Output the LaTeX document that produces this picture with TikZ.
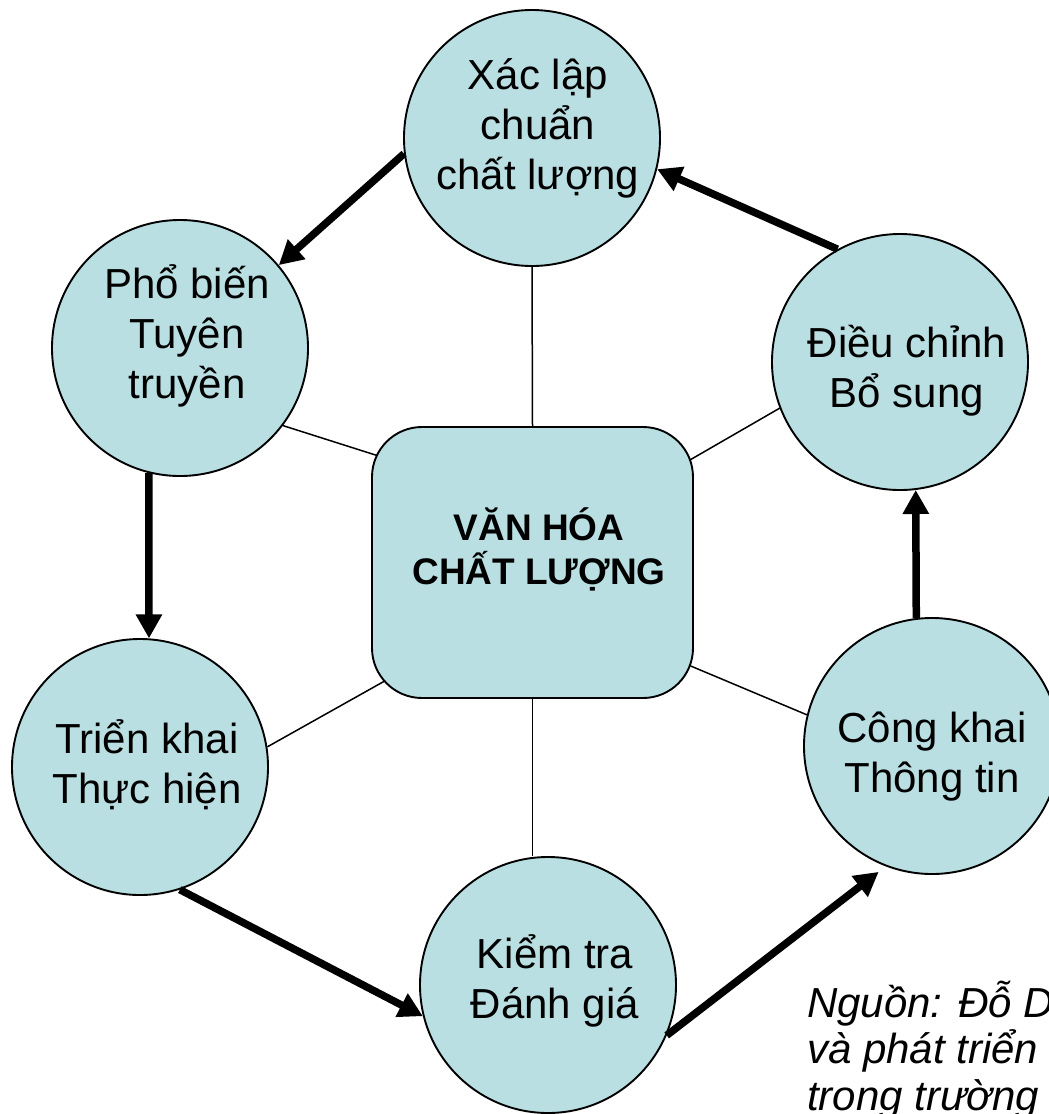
\documentclass[tikz,border=0pt]{standalone}
\usepackage{fontspec}
\setmainfont{Liberation Sans}
\usetikzlibrary{arrows.meta,backgrounds}
\definecolor{stagefill}{RGB}{185,223,226}

\begin{document}
\begin{tikzpicture}[%
        x = 1pt, y = -1pt,
        stage/.style = {circle, draw, line width=1.9pt, fill=stagefill,
            minimum size=256pt, inner sep=0pt},
        stagetext/.style = {anchor=base, align=center, inner sep=0pt,
            font=\fontsize{42}{50}\selectfont},
        core/.style = {rectangle, rounded corners=50pt, draw, line width=1.9pt,
            fill=stagefill, minimum width=321pt, minimum height=271pt},
        flow/.style = {line width=7.5pt, -{Triangle[length=24pt,width=25pt]}},
        spoke/.style = {line width=1.5pt}
    ]
      \path[use as bounding box] (0,0) rectangle (1049,1114);
      \clip (0,0) rectangle (1049,1114);
      \node[core] (vhcl) at (532.5,562.5) {};
      \node[anchor=base, align=center, inner sep=0pt, font=\fontsize{37}{44}\selectfont\bfseries] (vhcltext) at (539,584) {VĂN HÓA\\CHẤT LƯỢNG};
      \node[stage] (xaclap) at (532,138) {};
      \node[stage] (phobien) at (180,348) {};
      \node[stage] (trienkhai) at (140,767) {};
      \node[stage] (kiemtra) at (548,985) {};
      \node[stage] (congkhai) at (932,746) {};
      \node[stage] (dieuchinh) at (900,362) {};
      \node[stagetext] (xaclaptext) at (538,189) {Xác lập\\chuẩn\\chất lượng};
      \node[stagetext] (phobientext) at (187,398) {Phổ biến\\Tuyên\\truyền};
      \node[stagetext] (trienkhaitext) at (147,803) {Triển khai\\Thực hiện};
      \node[stagetext] (kiemtratext) at (555,1018) {Kiểm tra\\Đánh giá};
      \node[stagetext] (congkhaitext) at (932,792) {Công khai\\Thông tin};
      \node[stagetext] (dieuchinhtext) at (907,407) {Điều chỉnh\\Bổ sung};
      \node[anchor=base west, align=left, inner sep=0pt, font=\fontsize{42}{46.5}\selectfont\itshape] (nguon) at (807,1110) {Nguồn: Đỗ D\\và phát triển\\trong trường};
      \begin{scope}[on background layer]
        \draw[spoke] (xaclap.south) -- (vhcl.north);
        \draw[spoke, shorten >=-15pt] (phobien.-37) -- (vhcl.146);
        \draw[spoke, shorten >=-15pt] (dieuchinh.201) -- (vhcl.33);
        \draw[spoke, shorten >=-15pt] (trienkhai.9) -- (vhcl.218);
        \draw[spoke, shorten >=-15pt] (congkhai.166) -- (vhcl.-33);
        \draw[spoke] (vhcl.south) -- (vhcl.south |- kiemtra.north);
      \end{scope}
      \draw[flow] (xaclap.187.5) -- (phobien.40);
      \draw[flow] (phobien.256) -- (trienkhai.86.6);
      \draw[flow] (trienkhai.-72) -- (kiemtra.194);
      \draw[flow, shorten >=9pt] (kiemtra.-23) -- (congkhai.249);
      \draw[flow] (congkhai.97) -- (dieuchinh.-83);
      \draw[flow] (dieuchinh.119) -- (xaclap.-14.5);
    \end{tikzpicture}
\end{document}
